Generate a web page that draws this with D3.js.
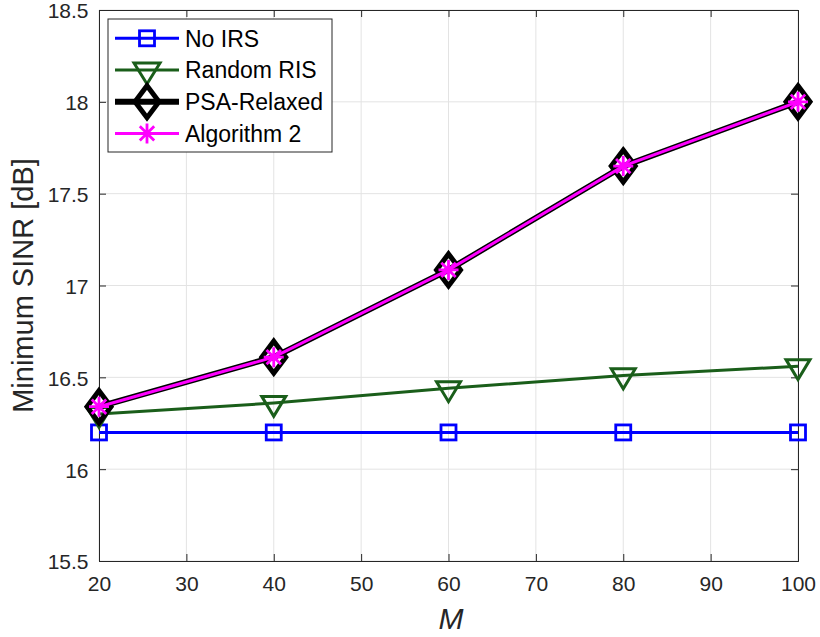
<!DOCTYPE html>
<html><head><meta charset="utf-8">
<script src="https://cdn.jsdelivr.net/npm/d3@7"></script>
<style>body{margin:0;background:#fff}svg{display:block}text{font-family:"Liberation Sans",Arial,sans-serif}</style>
</head><body><svg id="c" width="820" height="637"></svg>
<script>
const M = [20, 40, 60, 80, 100];
const noIRS = [16.2, 16.2, 16.2, 16.2, 16.2];
const randomRIS = [16.30, 16.36, 16.44, 16.51, 16.56];
const psaRelaxed = [16.34, 16.61, 17.085, 17.65, 18.00];
const algorithm2 = [16.34, 16.61, 17.085, 17.65, 18.00];
const xTicks = [20, 30, 40, 50, 60, 70, 80, 90, 100];
const yTicks = [15.5, 16, 16.5, 17, 17.5, 18, 18.5];
const seriesNames = ["No IRS", "Random RIS", "PSA-Relaxed", "Algorithm 2"];

const svg = d3.select("#c");
const L = 99, R = 798, T = 10, B = 561;
const x = d3.scaleLinear().domain([20, 100]).range([L, R]);
const y = d3.scaleLinear().domain([15.5, 18.5]).range([B, T]);
const axc = "#262626";

// grid
const g = svg.append("g");
g.selectAll(".gx").data(xTicks).join("line").attr("x1", d => x(d)).attr("x2", d => x(d))
  .attr("y1", T).attr("y2", B).attr("stroke", "#e3e3e3").attr("stroke-width", 1);
g.selectAll(".gy").data(yTicks).join("line").attr("y1", d => y(d)).attr("y2", d => y(d))
  .attr("x1", L).attr("x2", R).attr("stroke", "#e3e3e3").attr("stroke-width", 1);

// axes
const xAx = svg.append("g").attr("transform", `translate(0,${B})`)
  .call(d3.axisBottom(x).tickValues(xTicks).tickSize(-7).tickPadding(15).tickFormat(d3.format("d")));
const yAx = svg.append("g").attr("transform", `translate(${L},0)`)
  .call(d3.axisLeft(y).tickValues(yTicks).tickSize(-7).tickPadding(10.5).tickFormat(d => String(d)));
yAx.selectAll("text").attr("dy", "0.38em");
const xTop = svg.append("g").attr("transform", `translate(0,${T})`)
  .call(d3.axisTop(x).tickValues(xTicks).tickSize(-7).tickFormat(""));
const yRight = svg.append("g").attr("transform", `translate(${R},0)`)
  .call(d3.axisRight(y).tickValues(yTicks).tickSize(-7).tickFormat(""));
[xAx, yAx, xTop, yRight].forEach(a => {
  a.selectAll("path").attr("stroke", axc).attr("stroke-width", 1);
  a.selectAll("line").attr("stroke", axc);
  a.selectAll("text").attr("fill", axc).style("font-size", "21px").style("font-family", '"Liberation Sans",Arial,sans-serif');
});

// series
const line = d3.line().x((d, i) => x(M[i])).y(d => y(d));
const plot = svg.append("g");

function square(s, cx, cy, sz, col, w) {
  s.append("rect").attr("x", cx - sz / 2).attr("y", cy - sz / 2).attr("width", sz).attr("height", sz)
    .attr("fill", "none").attr("stroke", col).attr("stroke-width", w);
}
function triDown(s, cx, cy, w, h, col, sw) {
  s.append("path").attr("d", `M${cx - w / 2},${cy - h / 3}L${cx + w / 2},${cy - h / 3}L${cx},${cy + 2 * h / 3}Z`)
    .attr("fill", "none").attr("stroke", col).attr("stroke-width", sw).attr("stroke-linejoin", "miter");
}
function diamond(s, cx, cy, w, h, col, sw) {
  s.append("path").attr("d", `M${cx},${cy - h / 2}L${cx + w / 2},${cy}L${cx},${cy + h / 2}L${cx - w / 2},${cy}Z`)
    .attr("fill", "none").attr("stroke", col).attr("stroke-width", sw).attr("stroke-linejoin", "miter");
}
function star(s, cx, cy, r, col, sw) {
  const p = [];
  p.push(`M${cx - r},${cy}L${cx + r},${cy}`);
  p.push(`M${cx},${cy - r}L${cx},${cy + r}`);
  const a = r * 0.72;
  p.push(`M${cx - a},${cy - a}L${cx + a},${cy + a}`);
  p.push(`M${cx - a},${cy + a}L${cx + a},${cy - a}`);
  s.append("path").attr("d", p.join("")).attr("fill", "none").attr("stroke", col).attr("stroke-width", sw);
}

const blue = "#0000ff", green = "#1a5e1a", black = "#000000", mag = "#ff00ff";
const W = { blue: 3, green: 3, black: 6, mag: 3 };

plot.append("path").attr("d", line(noIRS)).attr("fill", "none").attr("stroke", blue).attr("stroke-width", W.blue);
noIRS.forEach((v, i) => square(plot, x(M[i]), y(v), 15, blue, 2.8));

plot.append("path").attr("d", line(randomRIS)).attr("fill", "none").attr("stroke", green).attr("stroke-width", W.green);
randomRIS.forEach((v, i) => triDown(plot, x(M[i]), y(v), 24, 20, green, 3));

plot.append("path").attr("d", line(psaRelaxed)).attr("fill", "none").attr("stroke", black).attr("stroke-width", W.black);
psaRelaxed.forEach((v, i) => diamond(plot, x(M[i]), y(v), 24, 32, black, 5));

plot.append("path").attr("d", line(algorithm2)).attr("fill", "none").attr("stroke", mag).attr("stroke-width", W.mag);
algorithm2.forEach((v, i) => star(plot, x(M[i]), y(v), 10, mag, 2.8));

// legend
const lg = svg.append("g");
lg.append("rect").attr("x", 108).attr("y", 19).attr("width", 224).attr("height", 133)
  .attr("fill", "#fff").attr("stroke", axc).attr("stroke-width", 1);
const ly = [38.3, 70, 101.7, 133.4];
const cols = [blue, green, black, mag];
const lw = [W.blue, W.green, W.black, W.mag];
seriesNames.forEach((n, i) => {
  lg.append("line").attr("x1", 115).attr("x2", 179).attr("y1", ly[i]).attr("y2", ly[i])
    .attr("stroke", cols[i]).attr("stroke-width", lw[i]);
  const cx = 147;
  if (i === 0) square(lg, cx, ly[i], 15, blue, 2.8);
  if (i === 1) triDown(lg, cx, ly[i], 26, 21, green, 3);
  if (i === 2) diamond(lg, cx, ly[i], 24, 32, black, 5);
  if (i === 3) star(lg, cx, ly[i], 10, mag, 2.8);
  lg.append("text").attr("x", 185).attr("y", ly[i] + 8.3).text(n).attr("fill", "#000").style("font-size", "23px");
});

// axis labels
svg.append("text").attr("transform", `translate(33,${(T + B) / 2}) rotate(-90)`).attr("text-anchor", "middle")
  .attr("fill", axc).style("font-size", "29px").text("Minimum SINR [dB]");
svg.append("text").attr("x", 451).attr("y", 629).attr("text-anchor", "middle")
  .attr("fill", axc).style("font-size", "30px").style("font-style", "italic").text("M");
</script></body></html>
